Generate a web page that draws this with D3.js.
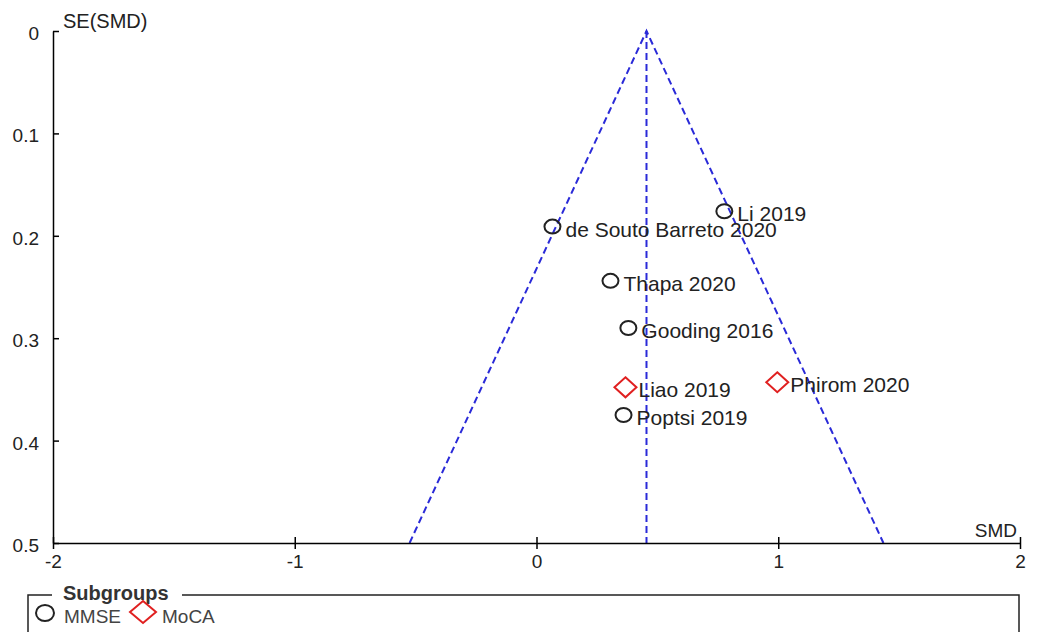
<!DOCTYPE html>
<html>
<head>
<meta charset="utf-8">
<script src="https://cdn.jsdelivr.net/npm/d3@7"></script>
<style>
body{margin:0;background:#fff;}
svg{display:block;font-family:"Liberation Sans",Arial,sans-serif;}
</style>
</head>
<body>
<svg id="chart" width="1040" height="632"></svg>
<script>
// study estimates
var studies=["Li 2019","de Souto Barreto 2020","Thapa 2020","Gooding 2016","Liao 2019","Phirom 2020","Poptsi 2019"]
var smd=[0.777,0.066,0.306,0.380,0.368,0.996,0.360]
var se=[0.176,0.191,0.244,0.290,0.348,0.343,0.375]
var subgroup=["MMSE","MMSE","MMSE","MMSE","MoCA","MoCA","MMSE"]
var pooled=0.455
var xTicks=[-2,-1,0,1,2]
var yTicks=[0,0.1,0.2,0.3,0.4,0.5]
var groups=["MMSE","MoCA"]

var svg=d3.select("#chart")

var xScale=d3.scaleLinear().domain([-2,2]).range([53,1020])
var yScale=d3.scaleLinear().domain([0,0.5]).range([31,543])

var blue="#2a2ad8"

// funnel
var funnel=[[pooled-1.96*0.5,0.5],[pooled,0],[pooled+1.96*0.5,0.5]]
var line=d3.line().x(d=>xScale(d[0])).y(d=>yScale(d[1]))
svg.append("path")
.attr("d",line(funnel))
.attr("fill","none")
.attr("stroke",blue)
.attr("stroke-width",2)
.attr("stroke-dasharray","7,4")
svg.append("path")
.attr("d",line([[pooled,0],[pooled,0.5]]))
.attr("fill","none")
.attr("stroke",blue)
.attr("stroke-width",2)
.attr("stroke-dasharray","7,4")

// axes
var xAxis=d3.axisBottom(xScale).tickValues(xTicks).tickSizeInner(6).tickSizeOuter(0).tickPadding(3).tickFormat(d=>String(d))
var gx=svg.append("g").attr("transform",`translate(0,${yScale(0.5)})`).call(xAxis)
gx.selectAll(".tick line").attr("y1",-6).attr("stroke","#000").attr("stroke-width",1.5)
gx.select(".domain").attr("stroke","#000").attr("stroke-width",1.5)
gx.selectAll("text").attr("y",25).attr("dy",0).attr("font-size",19).attr("fill","#222").attr("font-family","Liberation Sans, Arial")

var yAxis=d3.axisLeft(yScale).tickValues(yTicks).tickSizeInner(6).tickSizeOuter(0).tickPadding(8).tickFormat(d=>d===0?"0":d3.format(".1f")(d))
var gy=svg.append("g").attr("transform",`translate(${xScale(-2)},0)`).call(yAxis)
gy.selectAll(".tick line").attr("x2",6).attr("stroke","#000").attr("stroke-width",1.5)
gy.select(".domain").attr("stroke","#000").attr("stroke-width",1.5)
gy.selectAll("text").attr("dy","0.45em").attr("font-size",19).attr("fill","#222").attr("font-family","Liberation Sans, Arial")

svg.append("text").attr("x",63).attr("y",28).attr("font-size",20).attr("fill","#222").text("SE(SMD)")
svg.append("text").attr("x",1017).attr("y",537).attr("text-anchor","end").attr("font-size",19).attr("fill","#222").text("SMD")

// points
var data=studies.map((s,i)=>({name:s,x:smd[i],y:se[i],g:subgroup[i]}))
var pts=svg.selectAll(".pt").data(data).enter().append("g").attr("class","pt")
.attr("transform",d=>`translate(${xScale(d.x)},${yScale(d.y)})`)
pts.filter(d=>d.g==="MMSE").append("ellipse").attr("rx",8).attr("ry",7)
.attr("fill","none").attr("stroke","#222").attr("stroke-width",2)
pts.filter(d=>d.g==="MoCA").append("path").attr("d","M0,-10L11,0L0,10L-11,0Z")
.attr("fill","none").attr("stroke","#e02020").attr("stroke-width",2)
pts.append("text").attr("x",13).attr("y",10).attr("font-size",21).attr("fill","#222").text(d=>d.name)

// legend
var lg=svg.append("g")
lg.append("path").attr("d","M28,640V595H52M182,595H1019V640").attr("fill","none").attr("stroke","#222").attr("stroke-width",1.5)
lg.append("text").attr("x",63).attr("y",600).attr("font-size",20).attr("font-weight","bold").attr("fill","#333").text("Subgroups")
var items=lg.selectAll(".li").data(groups).enter().append("g")
items.each(function(d,i){
	var g=d3.select(this)
	if(d==="MMSE"){
		g.append("ellipse").attr("cx",45).attr("cy",613).attr("rx",9).attr("ry",8).attr("fill","none").attr("stroke","#222").attr("stroke-width",2)
		g.append("text").attr("x",64).attr("y",623).attr("font-size",19).attr("fill","#444").text(d)
	}else{
		g.append("path").attr("d","M143,601L156,612L143,623L130,612Z").attr("fill","none").attr("stroke","#e02020").attr("stroke-width",2)
		g.append("text").attr("x",162).attr("y",623).attr("font-size",19).attr("fill","#444").text(d)
	}
})
</script>
</body>
</html>
